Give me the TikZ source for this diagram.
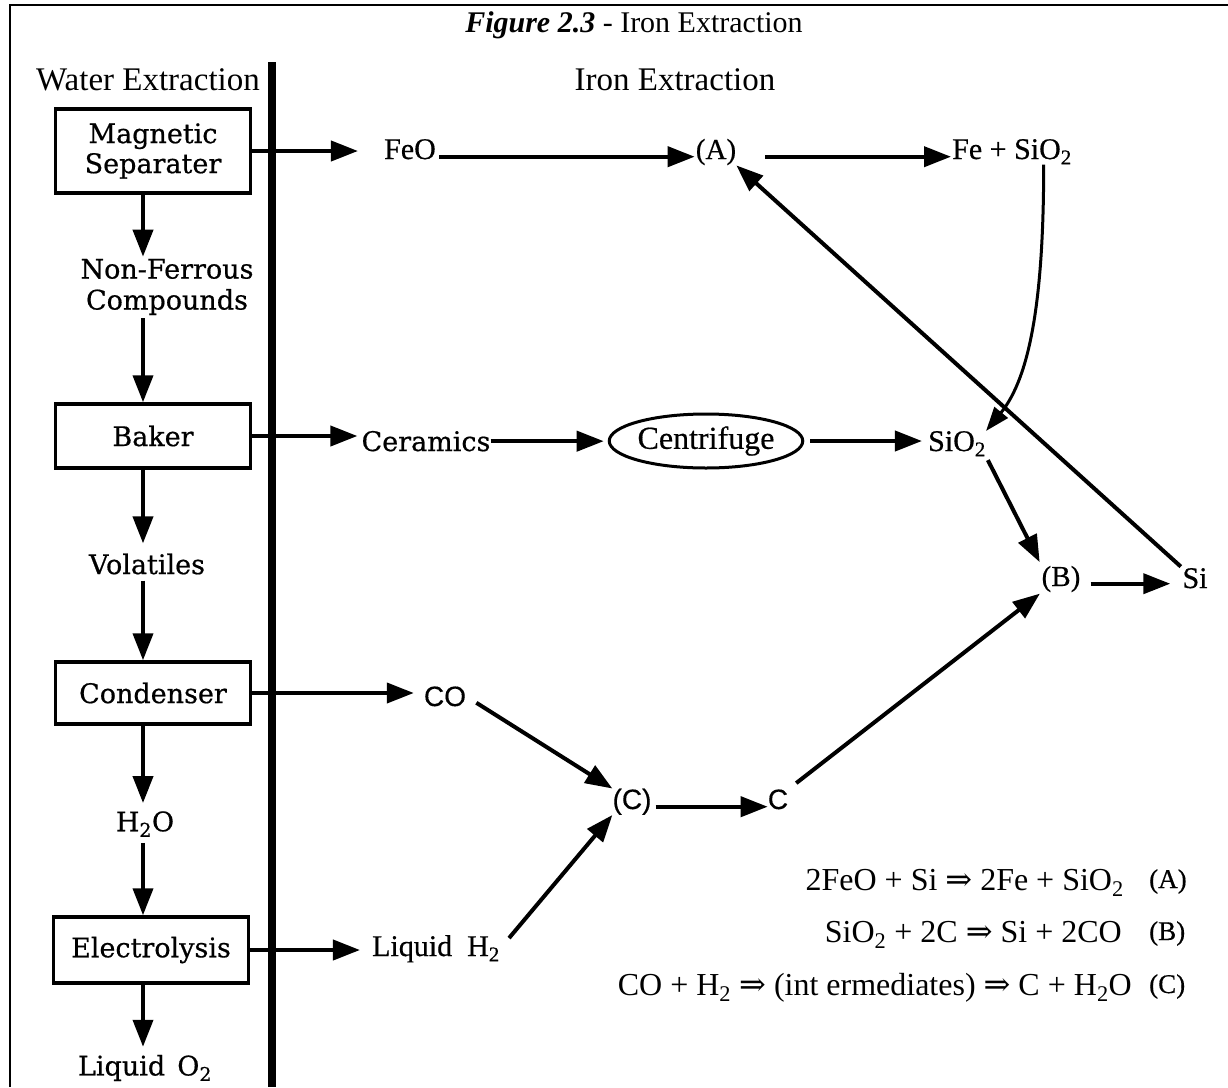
\documentclass[tikz,border=0pt]{standalone}
\usepackage{fontspec}
\setmainfont{Liberation Serif}
\newfontfamily\lab{DejaVu Serif}[FakeBold=0.6]
\newfontfamily\rlab{Liberation Serif}[FakeBold=0.5]
\newfontfamily\sanslab{Liberation Sans}[FakeBold=0.4]
\newfontfamily\arrfont{DejaVu Serif}
\usetikzlibrary{arrows.meta,shapes.geometric}
\begin{document}
\begin{tikzpicture}[x=1pt,y=-1pt,
  arr/.style={line width=4pt,-{Triangle[length=27pt,width=20pt]}},
  arrthin/.style={line width=3pt,-{Triangle[length=24pt,width=17pt]}},
  procbox/.style={draw,line width=3.5pt,minimum width=195pt,inner sep=0pt,
    font=\lab\fontsize{27}{30}\selectfont,align=center},
  lt/.style={inner sep=0pt,font=\lab\fontsize{27}{31}\selectfont,align=center},
  rt/.style={inner sep=0pt,font=\rlab\fontsize{30}{34}\selectfont},
  st/.style={inner sep=0pt,font=\sanslab\fontsize{28}{32}\selectfont},
  hdr/.style={inner sep=0pt,font=\fontsize{33}{38}\selectfont},
  eq/.style={inner sep=0pt,font=\fontsize{32}{36}\selectfont},
  tag/.style={inner sep=0pt,font=\rlab\fontsize{27}{32}\selectfont}
]
\useasboundingbox (0,0) rectangle (1228,1087);
\fill[white] (0,0) rectangle (1228,1087);
% frame
\draw[line width=2pt] (10,1087) -- (10,5) -- (1228,5);
% dividing line
\draw[line width=8pt] (272,62) -- (272,1087);

% titles
\node[inner sep=0pt,font=\fontsize{30}{34}\selectfont] (title) at (634,25)
  {\textbf{\textit{Figure 2.3}} - Iron Extraction};
\node[hdr] (hw) at (148,80) {Water Extraction};
\node[hdr] (hi) at (675,80) {Iron Extraction};

% water extraction column
\node[procbox,minimum height=84pt] (ms) at (153,151) {Magnetic\\Separater};
\node[lt] (nf) at (167,287) {Non-Ferrous\\Compounds};
\node[procbox,minimum height=64pt] (bk) at (153,436) {Baker};
\node[lt] (vol) at (147,564) {Volatiles};
\node[procbox,minimum height=62pt] (cd) at (153,693) {Condenser};
\node[lt] (h2o) at (145,824) {H\textsubscript{2}O};
\node[procbox,minimum height=66pt] (el) at (151,950) {Electrolysis};
\node[lt] (lo2) at (145,1068) {Liquid\hspace{0.45em}O\textsubscript{2}};

\coordinate (colx) at (143,0);
\draw[arr] (ms.south -| colx) -- (nf.north -| colx) [shorten >=2pt];
\draw[arr] (nf.south -| colx) -- (bk.north -| colx) [shorten <=3pt];
\draw[arr] (bk.south -| colx) -- (vol.north -| colx) [shorten >=10pt];
\draw[arr] (vol.south -| colx) -- (cd.north -| colx) [shorten <=6pt];
\draw[arr] (cd.south -| colx) -- (h2o.north -| colx) [shorten >=8pt];
\draw[arr] (h2o.south -| colx) -- (el.north -| colx) [shorten <=6pt];
\draw[arr] (el.south -| colx) -- (lo2.north -| colx) [shorten >=8pt];

% iron extraction
\node[rt,anchor=base] (feo) at (410,159) {FeO};
\node[rt,anchor=base,font=\rlab\fontsize{29}{32}\selectfont] (pa) at (716,159) {(A)};
\node[rt,anchor=base west] (fesio) at (952,159) {Fe + SiO\textsubscript{2}};
\node[lt,anchor=base] (cer) at (426,451) {Ceramics};
\node[draw,ellipse,line width=3pt,minimum width=192pt,minimum height=54pt,inner sep=0pt,
      font=\rlab\fontsize{32}{36}\selectfont] (cen) at (706,441) {Centrifuge};
\node[rt,anchor=base] (sio) at (957,451) {SiO\textsubscript{2}};
\node[rt,anchor=base,font=\rlab\fontsize{29}{32}\selectfont] (pb) at (1061,586) {(B)};
\node[rt,anchor=base] (si) at (1195,588) {Si};
\node[st,anchor=base] (co) at (445,706) {CO};
\node[st,anchor=base] (pc) at (632,809) {(C)};
\node[st,anchor=base] (c) at (778,809) {C};
\node[rt,anchor=base] (lh2) at (436,956) {Liquid\hspace{0.5em}H\textsubscript{2}};

% horizontal arrows
\draw[arr] (ms.east) -- (ms.east -| feo.west) [shorten >=26pt];
\draw[arr] (feo.mid east) -- (feo.mid east -| pa.west) [shorten <=3pt, shorten >=1pt];
\draw[arr] (pa.mid east) -- (pa.mid east -| fesio.west) [shorten <=29pt, shorten >=1pt];
\draw[arr] (bk.east) -- (bk.east -| cer.west) [shorten >=4pt];
\draw[arr] (cer.east) -- (cer.east -| cen.west) [shorten >=4pt];
\draw[arr] (cen.east) -- (cen.east -| sio.west) [shorten <=6pt, shorten >=6pt];
\draw[arr] (pb.mid east) -- (pb.mid east -| si.west) [shorten <=10pt, shorten >=12pt];
\draw[arr] (cd.east) -- (cd.east -| co.west) [shorten >=10pt];
\draw[arr] (pc.mid east) -- (pc.mid east -| c.west) [shorten <=4pt];
\draw[arr] (el.east) -- (el.east -| lh2.west) [shorten >=12pt];

% diagonal arrows
\draw[arr] (co.east) -- (pc.north west) [shorten <=12pt, shorten >=0pt];
\draw[arr] (lh2.east) -- (pc.south west) [shorten <=14pt, shorten >=0pt];
\draw[arr] (c.north east) -- (pb.south west) [shorten <=10pt, shorten >=2pt];
\draw[arr] (sio.south east) -- (pb.north west) [shorten <=4pt, shorten >=4pt];
\draw[arr] (si.north west) -- (pa.south east) [shorten <=2pt, shorten >=0pt];
\draw[arrthin] (fesio.-22) .. controls +(0,130) and +(45,-55) .. (sio.north east);

% equations
\node[eq,anchor=base east] (e1) at (1124,890) {2FeO + Si {\arrfont ⇒} 2Fe + SiO\textsubscript{2}};
\node[eq,anchor=base east] (e2) at (1122,942) {SiO\textsubscript{2} + 2C {\arrfont ⇒} Si + 2CO};
\node[eq,anchor=base east] (e3) at (1132,995) {CO + H\textsubscript{2} {\arrfont ⇒} (int ermediates) {\arrfont ⇒} C + H\textsubscript{2}O};
\node[tag,anchor=base west] (t1) at (1149,888) {(A)};
\node[tag,anchor=base west] (t2) at (1149,940) {(B)};
\node[tag,anchor=base west] (t3) at (1149,993) {(C)};
\end{tikzpicture}
\end{document}
